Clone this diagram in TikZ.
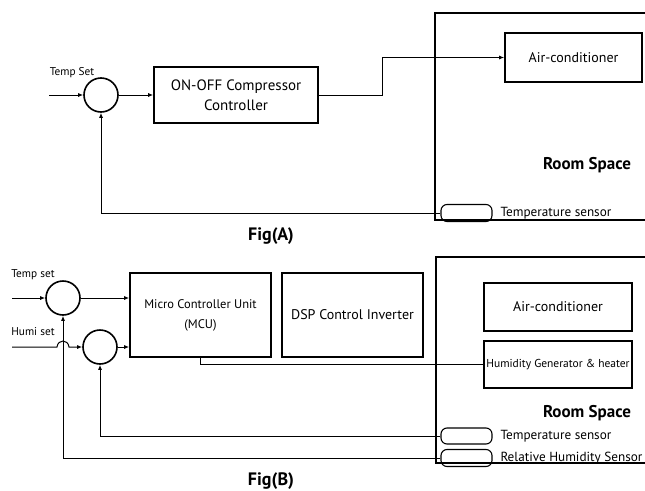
\documentclass[tikz,border=0pt]{standalone}
\usepackage{fontspec}
\setmainfont{PT Sans}
\usetikzlibrary{arrows.meta}

\begin{document}
\begin{tikzpicture}[x=1pt, y=-1pt, line width=1pt,
  block/.style={draw, line width=1.6pt, align=center, inner sep=0pt, font=\fontsize{14}{18}\selectfont},
  sumnode/.style={draw, circle, line width=1.6pt, minimum size=34pt, inner sep=0pt},
  sensor/.style={draw, rounded corners=6pt, minimum width=51pt, minimum height=17pt, line width=1.1pt, inner sep=0pt},
  sensortext/.style={anchor=west, inner sep=0pt, font=\fontsize{13.2}{15}\selectfont},
  setlabel/.style={inner sep=0pt, font=\fontsize{11.3}{13}\selectfont},
  roomlabel/.style={inner sep=0pt, font=\fontsize{17}{20}\selectfont\bfseries},
  figlabel/.style={inner sep=0pt, font=\fontsize{18}{21}\selectfont\bfseries},
  sig/.style={-{Latex[length=5pt,width=4pt]}},
]
  \clip (0,0) rectangle (645,490);
  % Fig(A)
  \draw[line width=1.5pt] (435,13) rectangle (660,220);
  \node[sumnode] (sumA) at (101,95) {};
  \node[block, minimum width=164pt, minimum height=56pt, font=\fontsize{15}{20}\selectfont] (ctrl) at (236,95) {ON-OFF Compressor\\Controller};
  \node[block, minimum width=137pt, minimum height=49pt] (acA) at (573.5,57.5) {Air-conditioner};
  \node[sensor] (sensA) at (466.5,213) {};
  \node[sensortext] (sensAtxt) at (500,213) {Temperature sensor};
  \node[roomlabel] (roomA) at (587,165) {Room Space};
  \node[setlabel] (setA) at (72,73) {Temp Set};
  \node[figlabel] (figA) at (271,236) {Fig(A)};
  \coordinate (inA) at (49,95);
  \draw[sig] (inA) -- (sumA.west);
  \draw[sig] (sumA.east) -- (ctrl.west);
  \draw[sig] (ctrl.east) -- ++(64,0) |- (acA.west);
  \draw[sig] (sensA.west) -| (sumA.south);

  % Fig(B)
  \draw[line width=1.5pt] (436,257) rectangle (660,463);
  \node[sumnode] (sumT) at (63,298) {};
  \node[sumnode] (sumH) at (100,347) {};
  \node[block, minimum width=141pt, minimum height=84pt, font=\fontsize{12.5}{20}\selectfont] (mcu) at (200.5,315) {Micro Controller Unit\\(MCU)};
  \node[block, minimum width=141pt, minimum height=84pt] (dsp) at (352.5,315) {DSP Control Inverter};
  \node[block, minimum width=148pt, minimum height=48pt] (acB) at (558,307) {Air-conditioner};
  \node[block, minimum width=148pt, minimum height=47pt, font=\fontsize{11.5}{13}\selectfont] (hum) at (558,364.5) {Humidity Generator \& heater};
  \node[roomlabel] (roomB) at (587,413) {Room Space};
  \node[sensor, minimum height=16pt] (sensT) at (466.5,436) {};
  \node[sensortext] (sensTtxt) at (500,436) {Temperature sensor};
  \node[sensor] (sensRH) at (466.5,458) {};
  \node[sensortext] (sensRHtxt) at (500,458) {Relative Humidity Sensor};
  \node[setlabel] (setT) at (33,275) {Temp set};
  \node[setlabel] (setH) at (33,332) {Humi set};
  \node[figlabel] (figB) at (271,481) {Fig(B)};
  \coordinate (inT) at (12,298);
  \coordinate (inH) at (12,347);
  \draw[sig] (inT) -- (sumT.west);
  \draw[sig] (inH) -- (57,347) .. controls (58,339) and (68,339) .. (69,347) -- (sumH.west);
  \draw[sig] (sumT.east) -- (sumT.east -| mcu.west);
  \draw[sig] (sumH.east) -- (sumH.east -| mcu.west);
  \draw (mcu.south) |- (hum.west);
  \draw[sig] (sensT.west) -| (sumH.south);
  \draw[sig] (sensRH.west) -| (sumT.south);
\end{tikzpicture}
\end{document}
